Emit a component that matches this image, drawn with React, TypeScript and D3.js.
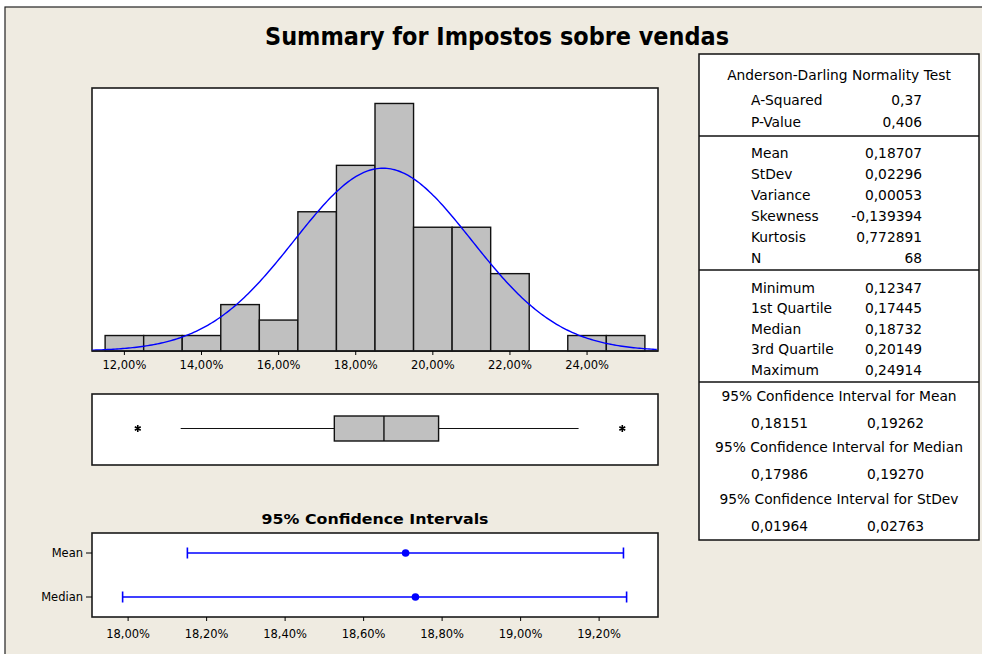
import React from 'react';
import * as d3 from 'd3';

// histogram: bins of 1% centred on these midpoints
const binMids = [0.12, 0.13, 0.14, 0.15, 0.16, 0.17, 0.18, 0.19, 0.20, 0.21, 0.22, 0.23, 0.24, 0.25];
const binCounts = [1, 1, 1, 3, 2, 9, 12, 16, 8, 8, 5, 0, 1, 1];
const histTicks = [0.12, 0.14, 0.16, 0.18, 0.20, 0.22, 0.24];

// boxplot
const boxStats = { q1: 0.17445, median: 0.18732, q3: 0.20149, whiskerLow: 0.1346, whiskerHigh: 0.2378 };
const outliers = [0.12347, 0.24914];

// fitted normal
const mean = 0.18707;
const stdev = 0.02296;
const nObs = 68;

// confidence interval plot
const ciNames = ['Mean', 'Median'];
const ciCenters = [0.18707, 0.18732];
const ciLows = [0.18151, 0.17986];
const ciHighs = [0.19262, 0.19270];
const ciTicks = [0.180, 0.182, 0.184, 0.186, 0.188, 0.190, 0.192];

// table
const adRows = [['A-Squared', '0,37'], ['P-Value', '0,406']];
const momentRows = [
  ['Mean', '0,18707'], ['StDev', '0,02296'], ['Variance', '0,00053'],
  ['Skewness', '-0,139394'], ['Kurtosis', '0,772891'], ['N', '68'],
];
const quantRows = [
  ['Minimum', '0,12347'], ['1st Quartile', '0,17445'], ['Median', '0,18732'],
  ['3rd Quartile', '0,20149'], ['Maximum', '0,24914'],
];
const ciTable = [
  ['95% Confidence Interval for Mean', '0,18151', '0,19262'],
  ['95% Confidence Interval for Median', '0,17986', '0,19270'],
  ['95% Confidence Interval for StDev', '0,01964', '0,02763'],
];

const ptLocale = d3.formatLocale({ decimal: ',', thousands: '.', grouping: [3], currency: ['', ''] });
const pct = ptLocale.format('.2%');

const FONT = '"DejaVu Sans", Verdana, sans-serif';
const BG = '#EFEBE1';

export default function App() {
  const left = 92, right = 658;
  const hTop = 88, hBot = 351;
  const x = d3.scaleLinear().domain([0.1116, 0.2584]).range([left, right]);
  const y = d3.scaleLinear().domain([0, 17]).range([hBot, hTop]);
  const half = 0.005;

  const curveX = d3.range(0.1116, 0.2585, 0.0005);
  const dens = (v: number) => nObs * 0.01 * Math.exp(-0.5 * ((v - mean) / stdev) ** 2) / (stdev * Math.sqrt(2 * Math.PI));
  const curve = d3.line<number>().x(v => x(v)).y(v => y(dens(v)))(curveX) || '';

  const bTop = 394, bBot = 465, bMid = 428.5, bH = 12.5;
  const star = d3.symbol(d3.symbolAsterisk, 32)() || '';

  const cTop = 533, cBot = 617;
  const xc = d3.scaleLinear().domain([0.17908, 0.19350]).range([left, right]);
  const yc = d3.scalePoint<string>().domain(ciNames).range([553, 597]);

  const tL = 699, tR = 979, tTop = 54, tBot = 540;
  const tMid = (tL + tR) / 2;
  const labX = 751, valR = 922, val2X = 867;

  const frame = { fill: '#fff', stroke: '#1a1a1a', strokeWidth: 1.6 };

  return (
    <div style={{ position: 'absolute', left: 0, top: 0 }}>
      <svg width={982} height={654} style={{ display: 'block', fontFamily: FONT }}>
        <rect x={0} y={0} width={982} height={654} fill="#fff" />
        <rect x={5} y={7} width={990} height={660} fill={BG} stroke="#222" strokeWidth={1.2} />
        <text x={497} y={45} textAnchor="middle" fontSize={25} fontWeight="bold" textLength={464}
          lengthAdjust="spacingAndGlyphs" fill="#000">Summary for Impostos sobre vendas</text>

        {/* histogram */}
        <rect x={left} y={hTop} width={right - left} height={hBot - hTop} {...frame} />
        {binMids.map((m, i) => binCounts[i] > 0 && (
          <rect key={i} x={x(m - half)} y={y(binCounts[i])} width={x(m + half) - x(m - half)}
            height={hBot - y(binCounts[i])} fill="#C0C0C0" stroke="#111" strokeWidth={1.4} />
        ))}
        <clipPath id="hclip"><rect x={left} y={hTop} width={right - left} height={hBot - hTop} /></clipPath>
        <path d={curve} fill="none" stroke="#0000FF" strokeWidth={1.4} clipPath="url(#hclip)" />
        <line x1={left} x2={right} y1={hBot} y2={hBot} stroke="#1a1a1a" strokeWidth={1.6} />
        {histTicks.map(t => (
          <g key={t}>
            <line x1={x(t)} x2={x(t)} y1={hBot} y2={hBot + 4} stroke="#000" />
            <text x={x(t)} y={369} textAnchor="middle" fontSize={11.5} fill="#000">{pct(t)}</text>
          </g>
        ))}

        {/* boxplot */}
        <rect x={left} y={bTop} width={right - left} height={bBot - bTop} {...frame} />
        <line x1={x(boxStats.whiskerLow)} x2={x(boxStats.q1)} y1={bMid} y2={bMid} stroke="#111" strokeWidth={1.2} />
        <line x1={x(boxStats.q3)} x2={x(boxStats.whiskerHigh)} y1={bMid} y2={bMid} stroke="#111" strokeWidth={1.2} />
        <rect x={x(boxStats.q1)} y={bMid - bH} width={x(boxStats.q3) - x(boxStats.q1)} height={bH * 2}
          fill="#C0C0C0" stroke="#111" strokeWidth={1.4} />
        <line x1={x(boxStats.median)} x2={x(boxStats.median)} y1={bMid - bH} y2={bMid + bH} stroke="#111" strokeWidth={1.4} />
        {outliers.map(o => (
          <path key={o} d={star} transform={`translate(${x(o)},${bMid})`} fill="none" stroke="#000" strokeWidth={1.6} />
        ))}

        {/* confidence intervals */}
        <text x={(left + right) / 2} y={524} textAnchor="middle" fontSize={13.5} fontWeight="bold"
          textLength={227} lengthAdjust="spacingAndGlyphs" fill="#000">95% Confidence Intervals</text>
        <rect x={left} y={cTop} width={right - left} height={cBot - cTop} {...frame} />
        {ciNames.map((n, i) => {
          const yy = yc(n) as number;
          return (
            <g key={n}>
              <line x1={left - 6} x2={left} y1={yy} y2={yy} stroke="#000" />
              <text x={83} y={yy + 4} textAnchor="end" fontSize={11.5} fill="#000">{n}</text>
              <line x1={xc(ciLows[i])} x2={xc(ciHighs[i])} y1={yy} y2={yy} stroke="#0000FF" strokeWidth={1.6} />
              <line x1={xc(ciLows[i])} x2={xc(ciLows[i])} y1={yy - 5.5} y2={yy + 5.5} stroke="#0000FF" strokeWidth={1.6} />
              <line x1={xc(ciHighs[i])} x2={xc(ciHighs[i])} y1={yy - 5.5} y2={yy + 5.5} stroke="#0000FF" strokeWidth={1.6} />
              <circle cx={xc(ciCenters[i])} cy={yy} r={3.8} fill="#0000FF" />
            </g>
          );
        })}
        {ciTicks.map(t => (
          <g key={t}>
            <line x1={xc(t)} x2={xc(t)} y1={cBot} y2={cBot + 4} stroke="#000" />
            <text x={xc(t)} y={638} textAnchor="middle" fontSize={11.5} fill="#000">{pct(t)}</text>
          </g>
        ))}

        {/* summary table */}
        <rect x={tL} y={tTop} width={tR - tL} height={tBot - tTop} fill="#fff" stroke="#111" strokeWidth={1.5} />
        {[136, 270, 382].map(s => (
          <line key={s} x1={tL} x2={tR} y1={s} y2={s} stroke="#111" strokeWidth={1.5} />
        ))}
        <g fontSize={13.8} fill="#000">
          <text x={tMid} y={80} textAnchor="middle">Anderson-Darling Normality Test</text>
          {adRows.map((r, i) => (
            <g key={r[0]}>
              <text x={labX} y={105 + i * 21.5}>{r[0]}</text>
              <text x={valR} y={105 + i * 21.5} textAnchor="end">{r[1]}</text>
            </g>
          ))}
          {momentRows.map((r, i) => (
            <g key={r[0]}>
              <text x={labX} y={158 + i * 21}>{r[0]}</text>
              <text x={valR} y={158 + i * 21} textAnchor="end">{r[1]}</text>
            </g>
          ))}
          {quantRows.map((r, i) => (
            <g key={r[0]}>
              <text x={labX} y={293 + i * 20.4}>{r[0]}</text>
              <text x={valR} y={293 + i * 20.4} textAnchor="end">{r[1]}</text>
            </g>
          ))}
          {ciTable.map((r, i) => (
            <g key={r[0]}>
              <text x={tMid} y={401 + i * 51.3} textAnchor="middle">{r[0]}</text>
              <text x={labX} y={428 + i * 51.3}>{r[1]}</text>
              <text x={val2X} y={428 + i * 51.3}>{r[2]}</text>
            </g>
          ))}
        </g>
      </svg>
    </div>
  );
}
